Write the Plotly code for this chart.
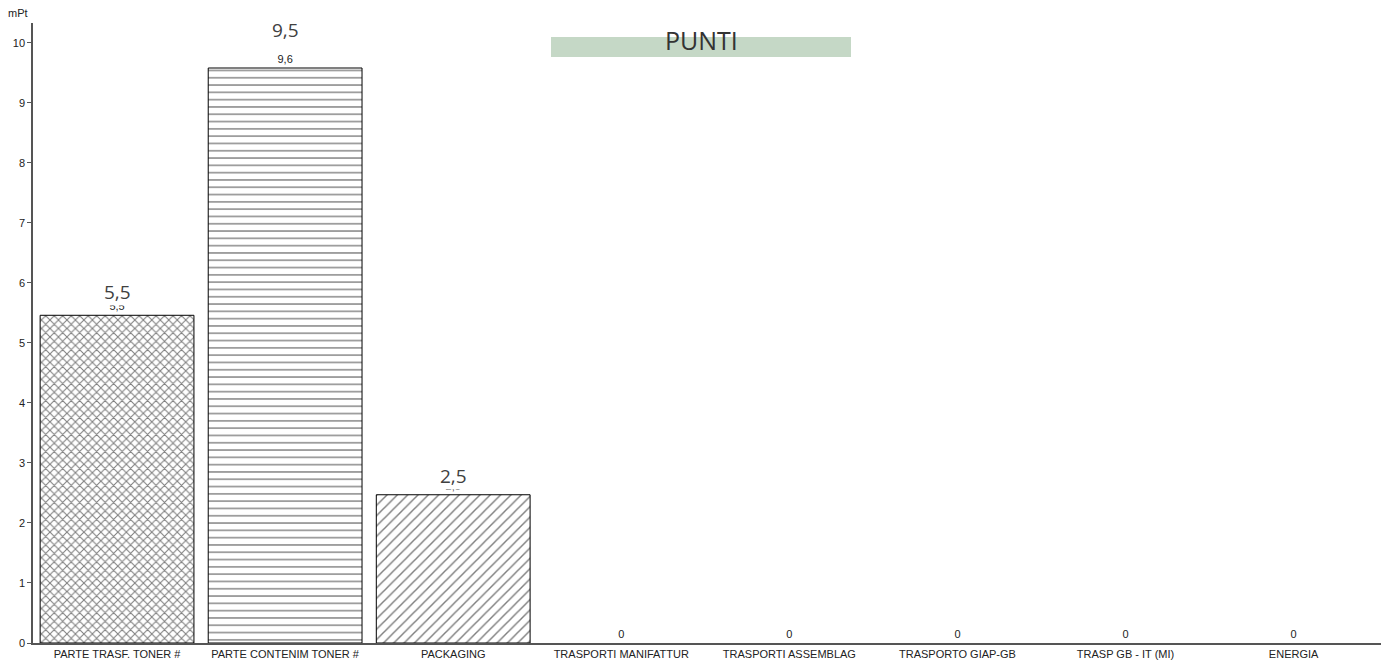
import plotly.graph_objects as go

categorie = [
    "PARTE TRASF. TONER #",
    "PARTE CONTENIM TONER #",
    "PACKAGING",
    "TRASPORTI MANIFATTUR",
    "TRASPORTI ASSEMBLAG",
    "TRASPORTO GIAP-GB",
    "TRASP GB - IT (MI)",
    "ENERGIA",
]
valori_mpt = [5.46, 9.58, 2.47, 0, 0, 0, 0, 0]
punti_etichette = ["5,5", "9,5", "2,5"]
motivi = ["x", "-", "/", "", "", "", "", ""]


def fmt(v):
    return "0" if v == 0 else f"{v:.1f}".replace(".", ",")


fig = go.Figure()
fig.add_trace(go.Bar(
    x=categorie,
    y=valori_mpt,
    text=[fmt(v) for v in valori_mpt],
    textposition="outside",
    textfont=dict(family="Liberation Sans, Arial", size=11, color="#222222"),
    cliponaxis=False,
    marker=dict(
        color="white",
        line=dict(color="black", width=[1 if v > 0 else 0 for v in valori_mpt]),
        pattern=dict(shape=motivi, size=[6, 7.3, 7.3, 8, 8, 8, 8, 8],
                     solidity=[0.32, 0.19, 0.2, 0.2, 0.2, 0.2, 0.2, 0.2],
                     fgcolor="black", bgcolor="white"),
    ),
    width=0.915,
))

# large point labels above the first three bars
spostamenti = [23, 38, 19]
for cat, val, lab, dy in zip(categorie, valori_mpt, punti_etichette, spostamenti):
    fig.add_annotation(
        x=cat, y=val, text=lab, showarrow=False,
        yanchor="middle", yshift=dy,
        font=dict(family="Open Sans", size=19, color="#404040"),
        bgcolor="white", borderpad=0,
    )

# title band
fig.add_shape(type="rect", xref="paper", yref="paper",
              x0=(551 - 33) / 1348, x1=(851 - 33) / 1348,
              y0=(643 - 57) / 620, y1=(643 - 37) / 620,
              fillcolor="#c5d8c6", line=dict(width=0), layer="below")
fig.add_annotation(xref="paper", yref="paper",
                   x=(701 - 33) / 1348, y=(643 - 40) / 620,
                   text="PUNTI", showarrow=False, yanchor="middle",
                   font=dict(family="Open Sans", size=25, color="#333333"))

# unit label
fig.add_annotation(xref="paper", yref="paper", x=-0.0245 + 6 / 1348, y=1.0,
                   yanchor="bottom", xanchor="left", yshift=2, text="mPt",
                   showarrow=False,
                   font=dict(family="Liberation Sans, Arial", size=11, color="#222222"))

fig.update_layout(
    width=1397, height=668,
    margin=dict(l=33, r=16, t=23, b=25, autoexpand=False),
    plot_bgcolor="white", paper_bgcolor="white",
    showlegend=False,
    bargap=0.085,
    xaxis=dict(
        range=[-0.5, 7.52], showgrid=False, showline=True, automargin=False,
        linecolor="#555555", linewidth=1.5, ticks="",
        tickfont=dict(family="Liberation Sans, Arial", size=11, color="#222222"),
    ),
    yaxis=dict(
        range=[0, 10.33], dtick=1, showgrid=False, showline=True, automargin=False,
        linecolor="#555555", linewidth=1.5, ticks="outside", ticklen=4,
        tickcolor="#555555", zeroline=False,
        tickfont=dict(family="Liberation Sans, Arial", size=11, color="#222222"),
    ),
)

fig.write_html("out.html")
